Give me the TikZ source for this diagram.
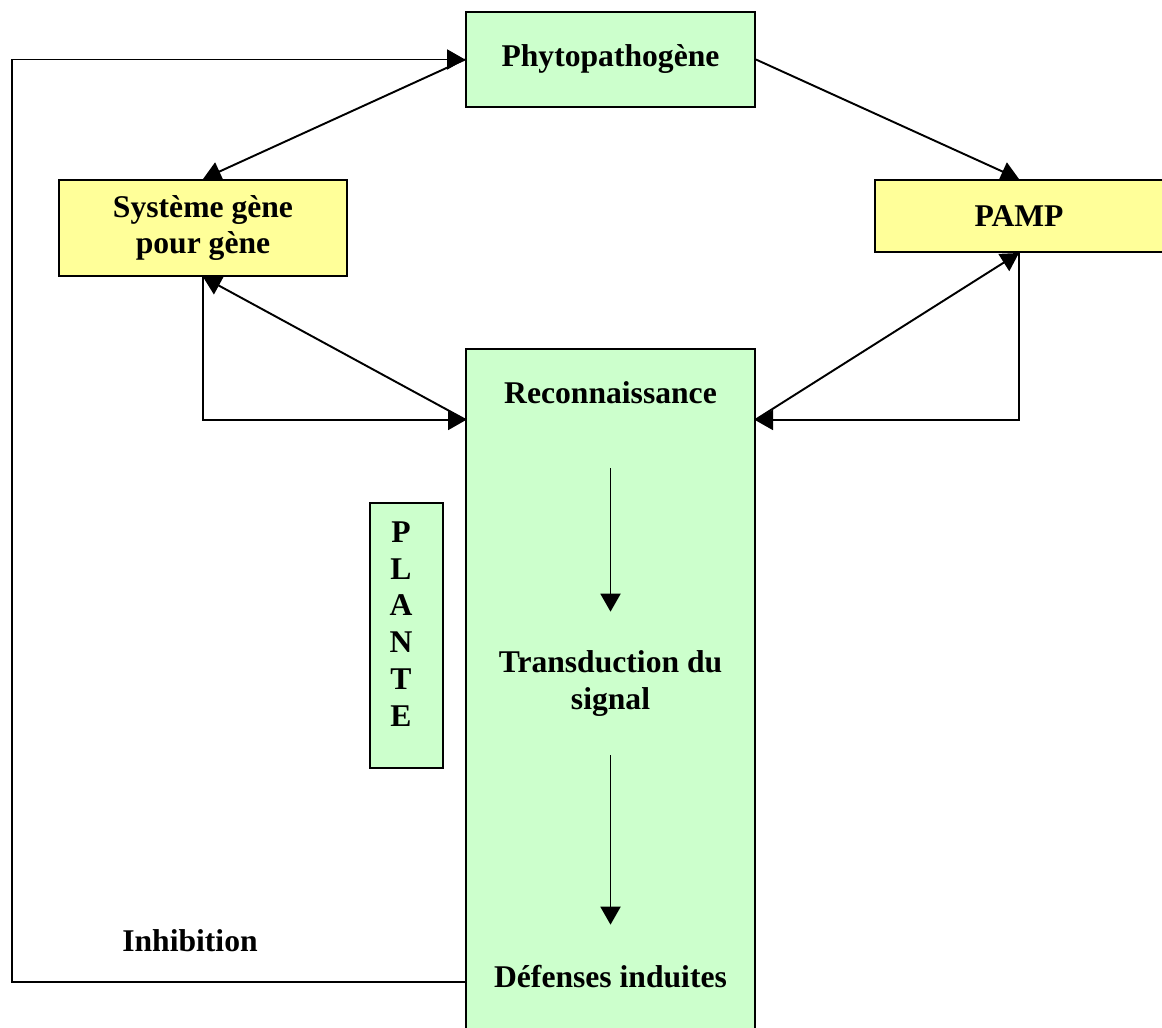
\documentclass[tikz,border=0pt]{standalone}
\usepackage{fontspec}
\setmainfont{Liberation Serif}
\usetikzlibrary{arrows.meta}
\definecolor{vert}{HTML}{CCFFCC}
\definecolor{jaune}{HTML}{FFFF99}
\tikzset{
	texte/.style={font=\bfseries\fontsize{18}{21}\selectfont, align=center},
	boite/.style={texte, draw=black, line width=1.1pt, inner sep=0pt},
	trait/.style={line width=1.1pt},
	fleche/.style={trait, -{Triangle[length=0.36cm,width=0.4cm]}}
}
\begin{document}
\begin{tikzpicture}[x=0.02cm, y=-0.02cm]
			%%%%% START %%%%%
			\useasboundingbox (0, 0) rectangle (1162, 1027);
			\clip (0, 0) rectangle (1162, 1027);
			
			\node[boite, fill=vert, minimum width=5.78cm, minimum height=1.9cm] (phyto) at (610.5, 59.5) {Phytopathogène};
			\node[boite, fill=jaune, minimum width=5.76cm, minimum height=1.92cm] (sys) at (203, 228) {Système gène\\pour gène};
			\node[boite, fill=jaune, minimum width=5.76cm, minimum height=1.44cm] (pamp) at (1019, 216) {PAMP};
			
			\node[boite, fill=vert, anchor=north, minimum width=5.78cm, minimum height=13.84cm] (plante) at (610.5, 348) {};
			\node[texte, inner sep=0pt, minimum height=3cm] (reco) at (610.5, 393) {Reconnaissance};
			\node[texte, inner sep=0pt, minimum height=2.86cm] (trans) at (610.5, 683.5) {Transduction du\\signal};
			\node[texte, inner sep=0pt, minimum height=2.08cm] (def) at (610.5, 977) {Défenses induites};
			
			\node[boite, fill=vert, minimum width=1.46cm, minimum height=5.3cm] (cadre) at (406.5, 635.5) {};
			\node[texte] (mot) at (401, 624) {P\\L\\A\\N\\T\\E};
			\node[texte] (inhib) at (190, 941) {Inhibition};
			
			\coordinate (inL) at (466, 420);
			\coordinate (inR) at (755, 420);
			\coordinate (outL) at (466, 982);
			
			\draw[fleche] (phyto.west) -- (sys.north);
			\draw[fleche] (phyto.east) -- (pamp.north);
			
			\draw[fleche] (inL) -- (sys.south);
			\draw[fleche] (sys.south) -- (sys.south |- inL) -- (inL);
			\draw[fleche] (inR) -- (pamp.south);
			\draw[fleche] (pamp.south) -- (pamp.south |- inR) -- (inR);
			
			\draw[fleche] (reco) -- (trans);
			\draw[fleche] (trans) -- (def);
			
			\draw[fleche] (outL) -- ++(-454, 0) |- (phyto.west);
			%%%%% END %%%%%
\end{tikzpicture}
\end{document}
